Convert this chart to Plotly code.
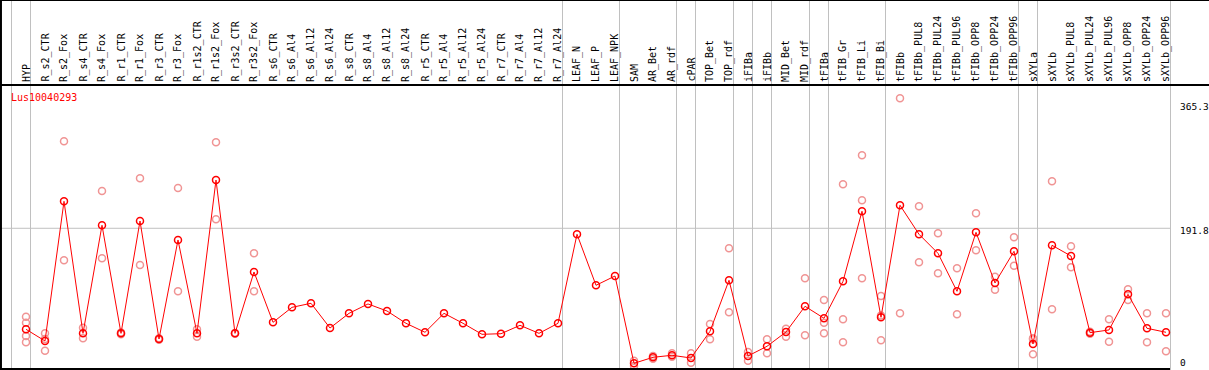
import plotly.graph_objects as go

gene_id = "Lus10040293"

categories = [
    "HYP", "R_s2_CTR", "R_s2_Fox", "R_s4_CTR", "R_s4_Fox", "R_r1_CTR", "R_r1_Fox",
    "R_r3_CTR", "R_r3_Fox", "R_r1s2_CTR", "R_r1s2_Fox", "R_r3s2_CTR", "R_r3s2_Fox",
    "R_s6_CTR", "R_s6_Al4", "R_s6_Al12", "R_s6_Al24", "R_s8_CTR", "R_s8_Al4",
    "R_s8_Al12", "R_s8_Al24", "R_r5_CTR", "R_r5_Al4", "R_r5_Al12", "R_r5_Al24",
    "R_r7_CTR", "R_r7_Al4", "R_r7_Al12", "R_r7_Al24", "LEAF_N", "LEAF_P", "LEAF_NPK",
    "SAM", "AR_Bet", "AR_rdf", "cPAR", "TOP_Bet", "TOP_rdf", "iFIBa", "iFIBb",
    "MID_Bet", "MID_rdf", "tFIBa", "tFIB_Gr", "tFIB_Li", "tFIB_Bi", "tFIBb",
    "tFIBb_PUL8", "tFIBb_PUL24", "tFIBb_PUL96", "tFIBb_OPP8", "tFIBb_OPP24",
    "tFIBb_OPP96", "sXYLa", "sXYLb", "sXYLb_PUL8", "sXYLb_PUL24", "sXYLb_PUL96",
    "sXYLb_OPP8", "sXYLb_OPP24", "sXYLb_OPP96",
]

mean_values = [
    57.0, 41.4, 227.8, 51.6, 195.8, 51.6, 201.5, 44.0, 176.2, 51.6, 256.2, 51.6, 133.5,
    66.3, 86.3, 91.7, 58.7, 78.3, 90.8, 81.4, 65.0, 53.0, 78.3, 65.0, 50.3,
    51.1, 62.3, 51.6, 65.0, 183.8, 115.7, 128.1,
    11.6, 19.6, 22.3, 18.7, 54.3, 122.4, 21.4, 34.3,
    53.4, 87.7, 71.7, 121.0, 214.5, 73.0, 222.5,
    183.8, 158.4, 107.7, 186.4, 118.8, 161.1,
    37.4, 169.1, 154.8, 52.5, 56.1, 103.7, 58.3, 53.0,
]

replicates = [
    [73.8, 65.8, 48.0, 39.6], [51.6, 28.4, 44.2], [307.9, 149.1], [59.1, 45.0], [241.6, 151.7],
    [50.5, 52.7], [258.5, 142.8], [43.0, 45.0], [245.6, 107.7], [57.0, 47.1], [306.6, 203.8],
    [51.0, 52.2], [158.4, 107.7],
    [], [], [], [], [], [], [], [], [], [], [], [], [], [], [], [],
    [], [], [],
    [15.1, 8.1], [21.5, 17.7], [25.0, 20.4], [25.0, 12.4], [64.1, 43.6], [165.1, 79.7],
    [26.7, 15.1], [43.6, 25.0],
    [57.8, 47.1], [125.1, 49.0], [96.1, 65.8, 51.6], [250.5, 70.3, 39.6],
    [289.2, 229.1, 125.1], [101.4, 42.3, 75.3], [365.3, 78.3],
    [221.1, 146.4], [185.1, 131.7], [138.4, 77.0], [211.8, 162.4], [127.2, 109.8],
    [179.8, 141.9],
    [45.0, 23.6, 43.6], [254.5, 83.7], [167.8, 139.7], [53.8, 51.2], [70.3, 40.4],
    [110.4, 96.1], [78.3, 39.6], [78.3, 27.6],
]

# indices of categories after which a grey separator is drawn
group_boundaries = [-1, 0, 28, 31, 34, 35, 37, 38, 39, 41, 42, 45, 52, 53, 60]
y_tick_values = [0, 191.8, 365.3]
y_tick_labels = ["0", "191.8", "365.3"]

W, H = 1209, 370
X_STEP = 19.0       # px per category
X0_PX = 26.0        # px of first category
Y_SCALE = 0.7493    # px per unit
Y0_PX = 372.0       # px of value 0
HEADER_PX = 85.0
RIGHT_PX = 1170.0

RED = "#ff0000"
REP = "#f09494"
GREY = "#c0c0c0"
FONT = "DejaVu Sans Mono"

xs = list(range(len(categories)))
rep_x, rep_y = [], []
for i, reps in enumerate(replicates):
    for v in reps:
        rep_x.append(i)
        rep_y.append(v)

fig = go.Figure()
fig.add_trace(go.Scatter(
    x=rep_x, y=rep_y, mode="markers",
    marker=dict(symbol="circle-open", size=7, color=REP, line=dict(width=1.5, color=REP)),
    cliponaxis=False, hoverinfo="skip", showlegend=False,
))
fig.add_trace(go.Scatter(
    x=xs, y=mean_values, mode="lines+markers",
    line=dict(color=RED, width=1),
    marker=dict(symbol="circle-open", size=7, color=RED, line=dict(width=1.5, color=RED)),
    cliponaxis=False, showlegend=False,
))

def py(px):
    return 1 - px / H

def value_paper(v):
    return py(Y0_PX - Y_SCALE * v)

shapes = []
bx = 4.5 / X_STEP
for b in group_boundaries:
    shapes.append(dict(type="line", xref="x", yref="paper", x0=b + bx, x1=b + bx, y0=0, y1=1,
                       line=dict(color=GREY, width=1), layer="below"))
shapes.append(dict(type="line", xref="paper", yref="y", x0=0, x1=RIGHT_PX / W,
                   y0=y_tick_values[1], y1=y_tick_values[1],
                   line=dict(color=GREY, width=1), layer="below"))
# frame
shapes.append(dict(type="line", xref="paper", yref="paper", x0=0, x1=1, y0=1, y1=1,
                   line=dict(color="black", width=2)))
shapes.append(dict(type="line", xref="paper", yref="paper", x0=0, x1=1,
                   y0=py(HEADER_PX), y1=py(HEADER_PX), line=dict(color="black", width=2)))
shapes.append(dict(type="line", xref="paper", yref="paper", x0=0.0008, x1=0.0008, y0=0, y1=1,
                   line=dict(color="black", width=2)))
shapes.append(dict(type="line", xref="paper", yref="paper", x0=0, x1=RIGHT_PX / W,
                   y0=py(369), y1=py(369), line=dict(color="black", width=2)))

annotations = []
for i, c in enumerate(categories):
    annotations.append(dict(x=i, xref="x", y=py(83), yref="paper", text=c, showarrow=False,
                            textangle=-90, xanchor="center", yanchor="bottom", borderpad=0,
                            font=dict(family=FONT, size=10, color="black")))
annotations.append(dict(x=10 / W, xref="paper", y=py(97), yref="paper", text=gene_id,
                        showarrow=False, xanchor="left", yanchor="middle", borderpad=0,
                        font=dict(family=FONT, size=10, color=RED)))
label_shift = {0: 9.5, 1: -2.0, 2: -8.5}
for k, (v, t) in enumerate(zip(y_tick_values, y_tick_labels)):
    annotations.append(dict(x=1179 / W, xref="paper", y=value_paper(v), yref="paper", text=t,
                            showarrow=False, xanchor="left", yanchor="middle",
                            yshift=label_shift[k], borderpad=0,
                            font=dict(family=FONT, size=9.5, color="black")))

fig.update_layout(
    width=W, height=H, margin=dict(l=0, r=0, t=0, b=0, pad=0),
    paper_bgcolor="white", plot_bgcolor="white",
    xaxis=dict(range=[-X0_PX / X_STEP, (W - X0_PX) / X_STEP], visible=False, fixedrange=True),
    yaxis=dict(range=[(Y0_PX - H) / Y_SCALE, Y0_PX / Y_SCALE], visible=False, fixedrange=True),
    shapes=shapes, annotations=annotations, showlegend=False,
)

fig.write_html(
    "out.html",
    config={"displayModeBar": False},
    post_script="document.body.style.margin='0';document.body.style.overflow='hidden';",
)
